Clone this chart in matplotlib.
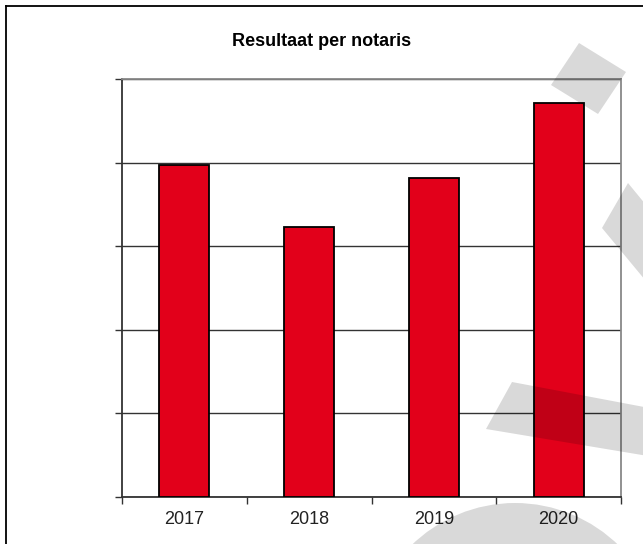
import matplotlib
matplotlib.use("Agg")
import matplotlib.pyplot as plt
from matplotlib.patches import Polygon, Circle
from matplotlib.ticker import FixedLocator, NullFormatter

plt.rcParams['font.family'] = ['Liberation Sans', 'DejaVu Sans']

# gegevens
jaren = ['2017', '2018', '2019', '2020']
resultaat = [3.97, 3.23, 3.82, 4.71]

fig = plt.figure(figsize=(6.43, 5.44), dpi=100)

# kader rond de figuur
fig.add_artist(plt.Line2D([6 / 643, 6 / 643], [0, 1 - 6 / 544], color='black', lw=1.3))
fig.add_artist(plt.Line2D([6 / 643, 1], [1 - 6 / 544, 1 - 6 / 544], color='black', lw=1.3))

ax = fig.add_axes([122 / 643, 47 / 544, 499 / 643, 418 / 544])
x = range(len(jaren))
ax.bar(x, resultaat, width=0.4, color='#e2001a', edgecolor='black', linewidth=1.3, zorder=3)

ax.set_xlim(-0.5, len(jaren) - 0.5)
ax.set_ylim(0, 5)
ax.set_yticks(range(6))
ax.yaxis.set_major_formatter(NullFormatter())
ax.yaxis.grid(True, color='#333333', linewidth=1.0, zorder=1)
ax.tick_params(axis='y', direction='out', length=5, width=1, color='#333333')

ax.set_xticks(list(x))
ax.set_xticklabels(jaren, fontsize=13, color='#222222')
ax.tick_params(axis='x', which='major', length=0, pad=10)
ax.xaxis.set_minor_locator(FixedLocator([-0.5, 0.5, 1.5, 2.5, 3.5]))
ax.tick_params(axis='x', which='minor', direction='out', length=5, width=1, color='#333333')

for s in ['left', 'bottom']:
    ax.spines[s].set_color('#333333')
    ax.spines[s].set_linewidth(1.3)
for s in ['top', 'right']:
    ax.spines[s].set_color('#888888')
    ax.spines[s].set_linewidth(1.3)

fig.text(0.5, 1 - 42 / 544, 'Resultaat per notaris', ha='center', va='center',
         fontsize=13, fontweight='bold')

# watermerk (decoratie) in pixelcoordinaten
wm = fig.add_axes([0, 0, 1, 1], zorder=10)
wm.set_xlim(0, 643)
wm.set_ylim(544, 0)
wm.axis('off')
stuk = dict(facecolor='black', alpha=0.15, edgecolor='none')
wm.add_patch(Polygon([(579, 43), (626, 72), (598, 114), (551, 85)], **stuk))
wm.add_patch(Polygon([(628, 183), (660, 222), (660, 298), (602, 228)], **stuk))
wm.add_patch(Polygon([(512, 382), (660, 410), (660, 458), (486, 429)], **stuk))
wm.add_patch(Circle((515, 651), 148, **stuk))

fig.savefig('out.png', dpi=100)
